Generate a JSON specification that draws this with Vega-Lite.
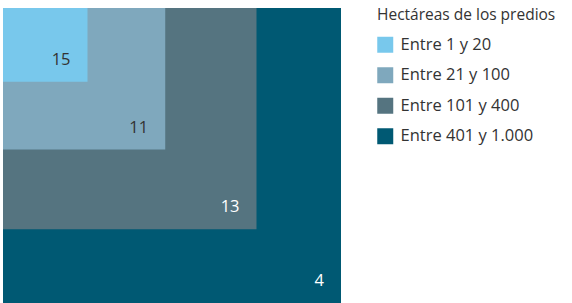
{
  "$schema": "https://vega.github.io/schema/vega-lite/v6.json",
  "autosize": "none",
  "width": 338,
  "height": 295,
  "padding": {"left": 3, "top": 8, "right": 231, "bottom": 0},
  "background": "white",
  "config": {"view": {"stroke": null}, "font": "Open Sans"},
  "data": {
    "values": [
      {"rango": "Entre 401 y 1.000", "lado": 100, "valor": 4},
      {"rango": "Entre 101 y 400", "lado": 75, "valor": 13},
      {"rango": "Entre 21 y 100", "lado": 48, "valor": 11},
      {"rango": "Entre 1 y 20", "lado": 25, "valor": 15}
    ]
  },
  "layer": [
    {
      "mark": {"type": "rect"},
      "encoding": {
        "x": {"field": "lado", "type": "quantitative", "scale": {"domain": [0, 100], "nice": false, "zero": true}, "axis": null},
        "x2": {"datum": 0},
        "y": {"field": "lado", "type": "quantitative", "scale": {"domain": [0, 100], "nice": false, "reverse": true}, "axis": null},
        "y2": {"datum": 0},
        "color": {
          "field": "rango",
          "type": "nominal",
          "scale": {
            "domain": ["Entre 1 y 20", "Entre 21 y 100", "Entre 101 y 400", "Entre 401 y 1.000"],
            "range": ["#78C8EC", "#7FA8BD", "#557480", "#005973"]
          },
          "legend": {
            "title": "Hectáreas de los predios",
            "orient": "none",
            "legendX": 374,
            "legendY": 0,
            "symbolType": "square",
            "symbolSize": 256,
            "symbolStrokeWidth": 0,
            "symbolOpacity": 1,
            "titleFontSize": 15.5,
            "titleFontWeight": "normal",
            "titleColor": "#333333",
            "titlePadding": 13,
            "labelFontSize": 16.5,
            "labelColor": "#333333",
            "labelOffset": 7,
            "rowPadding": 13.5,
            "padding": 0
          }
        }
      }
    },
    {
      "mark": {"type": "text", "align": "right", "baseline": "alphabetic", "dx": -17, "dy": -17, "fontSize": 16.5},
      "encoding": {
        "x": {"field": "lado", "type": "quantitative"},
        "y": {"field": "lado", "type": "quantitative"},
        "text": {"field": "valor"},
        "color": {
          "condition": {"test": "datum.lado < 50", "value": "#333333"},
          "value": "#ffffff"
        }
      }
    }
  ]
}
